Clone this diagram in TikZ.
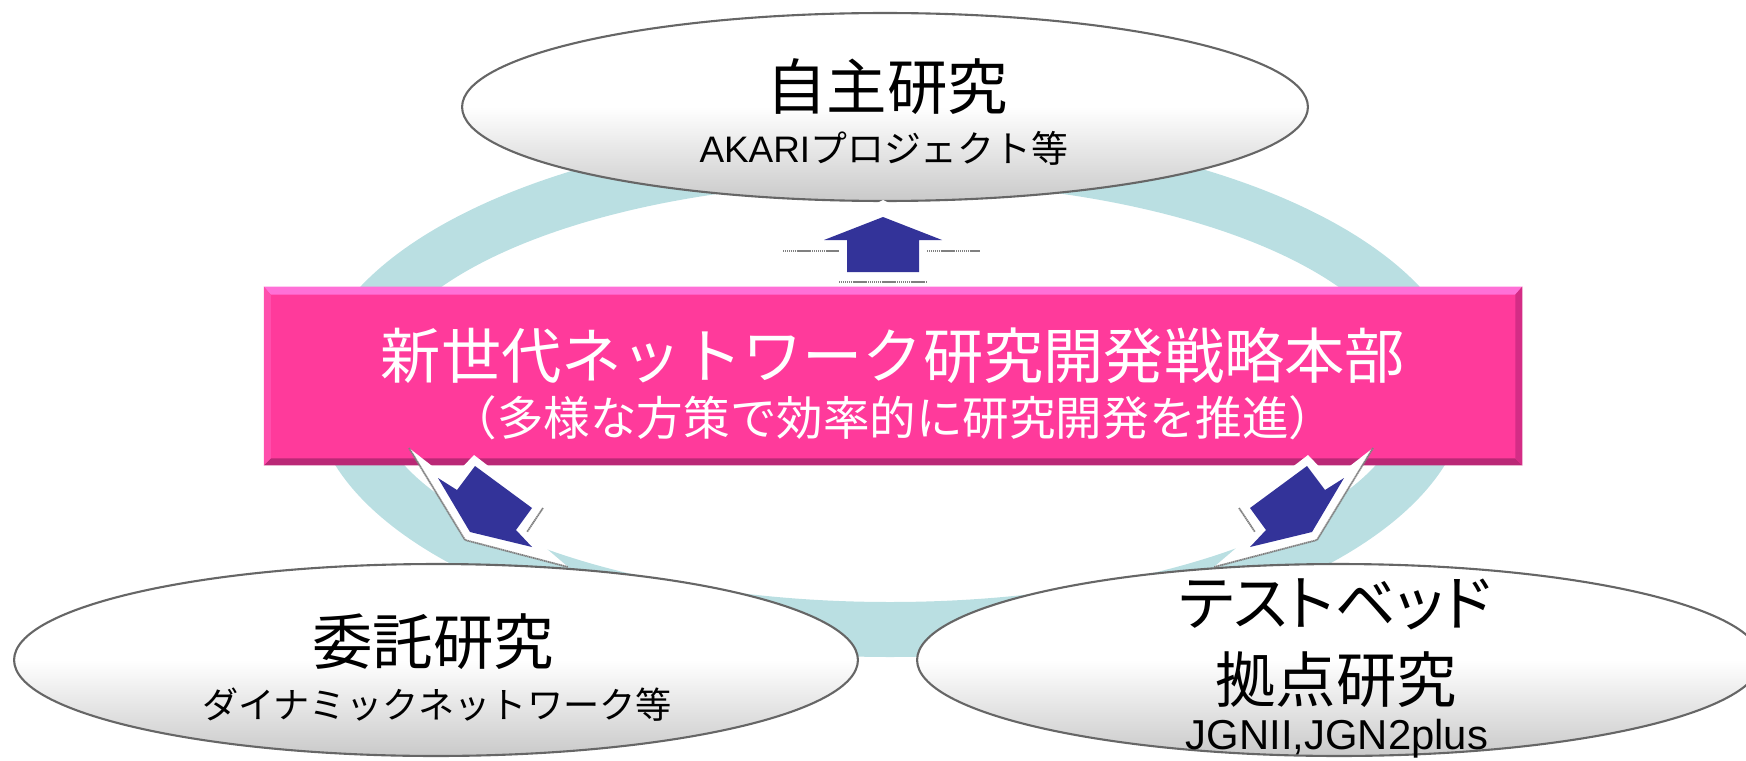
\documentclass[tikz,border=0pt]{standalone}
\usepackage{fontspec}
\newfontfamily\jp{Noto Sans CJK JP}
\newfontfamily\jpp{Noto Sans CJK JP}[RawFeature=+palt]
\newfontfamily\lat{Liberation Sans}
\usetikzlibrary{shapes.geometric,calc}
\definecolor{ringc}{RGB}{186,223,226}
\definecolor{pinkfill}{RGB}{255,58,155}
\definecolor{pinktop}{RGB}{255,112,215}
\definecolor{pinkleft}{RGB}{255,78,172}
\definecolor{pinkright}{RGB}{212,44,134}
\definecolor{pinkbot}{RGB}{186,40,118}
\definecolor{arrowblue}{RGB}{51,51,153}
\newcommand{\sidearrow}{%
  \fill[white] (409,448) -- (450,480) -- (474,455) -- (543,508) -- (527,532) -- (568,567) -- (465,540) -- cycle;
  \draw[halo edge] (409,448) -- (465,540) -- (568,567);
  \draw[halo edge] (543,508) -- (527,532);
  \fill[arrowblue] (475,466) -- (532,508) -- (516,530) -- (532,547) -- (470,532) -- (438,478) -- (457,490) -- cycle;
}
\begin{document}
\begin{tikzpicture}[x=0.02cm,y=-0.02cm,
  oval/.style={ellipse, draw=black!60, line width=1.2pt, top color=white, bottom color=black!21, middle color=white, inner sep=0pt},
  halo edge/.style={draw=black!50, line width=1pt, line join=round, dash pattern=on 0.8pt off 0.3pt},
  bigjp/.style={font=\jp\fontsize{34.4}{40}\selectfont, anchor=base, inner sep=0pt},
  smalljp/.style={font=\jp\fontsize{20.6}{24}\selectfont, anchor=base, inner sep=0pt},
  boxtext/.style={text=white, anchor=base, inner sep=0pt}]
\useasboundingbox (0,0) rectangle (1746,760);
% ring
\fill[ringc, even odd rule] (890,392) ellipse [x radius=577, y radius=265] (890,392) ellipse [x radius=518, y radius=210];
% ellipses
\node[oval, minimum width=16.92cm, minimum height=3.76cm] (own) at (885,107) {};
\node[oval, minimum width=16.88cm, minimum height=3.84cm] (commission) at (436,660) {};
\node[oval, minimum width=16.88cm, minimum height=3.84cm] (testbed) at (1339,660) {};
% headquarters box
\node[fill=pinkfill, minimum width=25.16cm, minimum height=3.56cm, inner sep=0pt] (hq) at (893,376) {};
\fill[pinktop] (hq.north west) -- (hq.north east) -- ($(hq.north east)+(-7,8)$) -- ($(hq.north west)+(7,8)$) -- cycle;
\fill[pinkbot] (hq.south west) -- (hq.south east) -- ($(hq.south east)+(-7,-7)$) -- ($(hq.south west)+(7,-7)$) -- cycle;
\fill[pinkleft] (hq.north west) -- ($(hq.north west)+(7,8)$) -- ($(hq.south west)+(7,-7)$) -- (hq.south west) -- cycle;
\fill[pinkright] (hq.north east) -- ($(hq.north east)+(-7,8)$) -- ($(hq.south east)+(-7,-7)$) -- (hq.south east) -- cycle;
\node[boxtext, font=\jp\fontsize{34.3}{40}\selectfont] (title) at (893,378) {新世代ネットワーク研究開発戦略本部};
\node[boxtext, font=\jp\fontsize{26.5}{30}\selectfont] (subtitle) at (893,435) {（多様な方策で効率的に研究開発を推進）};
% up arrow
\fill[white] (883,200) -- (985,251) -- (927,251) -- (927,282) -- (839,282) -- (839,251) -- (781,251) -- cycle;
\draw[halo edge] (783,251) -- (839,251);
\draw[halo edge] (927,251) -- (980,251);
\draw[halo edge] (839,282) -- (927,282);
\fill[arrowblue] (883,217) -- (942,240) -- (919,240) -- (919,272) -- (847,272) -- (847,240) -- (824,240) -- cycle;
% side arrows
\sidearrow
\begin{scope}[shift={(1782,0)}, xscale=-1]
\sidearrow
\end{scope}
% texts
\node[bigjp] (ownt) at (887,110) {自主研究};
\node[font=\fontsize{21}{25}\selectfont, anchor=base, inner sep=0pt] (owns) at (884,163) {{\lat AKARI}{\jp プロジェクト等}};
\node[bigjp] (comt) at (433,664) {委託研究};
\node[smalljp] (coms) at (437,718) {ダイナミックネットワーク等};
\node[bigjp, font=\jpp\fontsize{34.4}{40}\selectfont] (tbt1) at (1335,625) {テストベッド};
\node[bigjp] (tbt2) at (1336,702) {拠点研究};
\node[font=\lat\fontsize{23.8}{28}\selectfont, anchor=base, inner sep=0pt] (tbs) at (1337,749) {JGNII,JGN2plus};
\end{tikzpicture}
\end{document}
